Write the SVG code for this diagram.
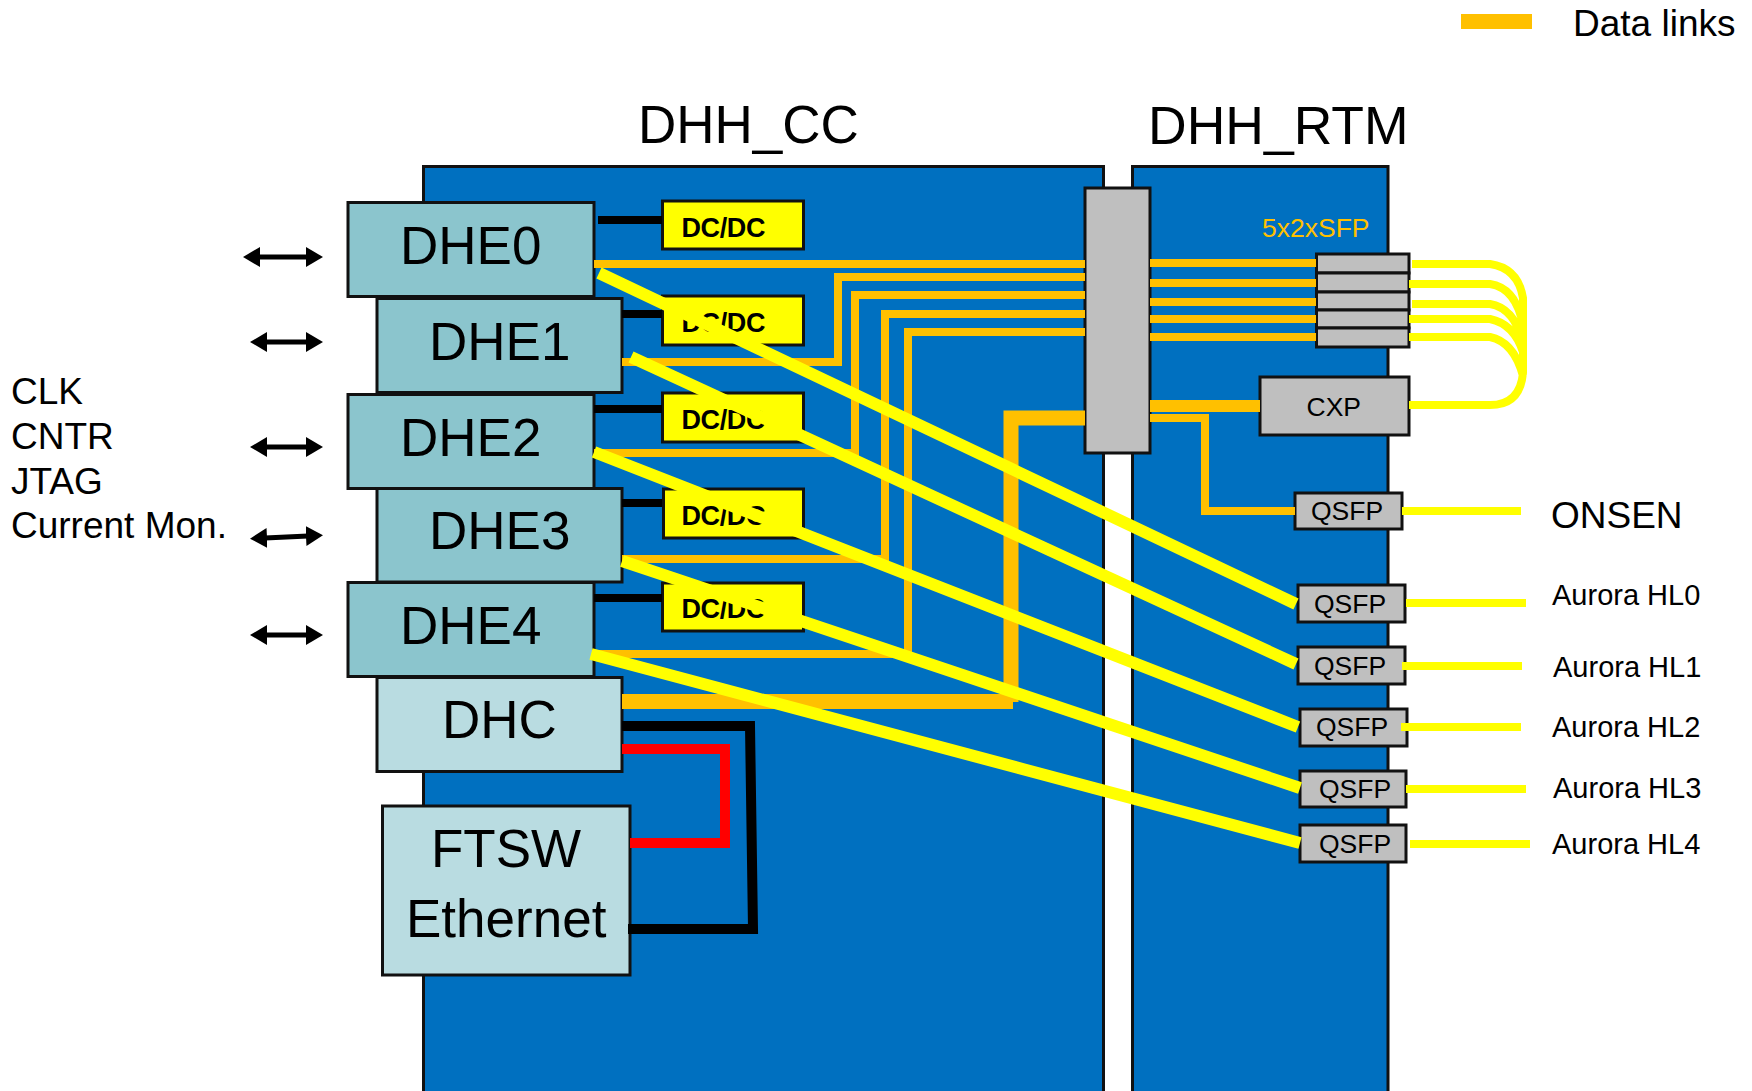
<svg xmlns="http://www.w3.org/2000/svg" width="1752" height="1091" viewBox="0 0 1752 1091">
<style>
text{font-family:"Liberation Sans",Arial,sans-serif;fill:#000}
.panel{fill:#0070c0;stroke:#111;stroke-width:3}
.box{stroke:#111;stroke-width:3}
.dhe{fill:#8bc5cd}.lt{fill:#b9dce1}.gray{fill:#bfbfbf}.dc{fill:#ff0}
.big{font-size:53px}.dct{font-size:27px;font-weight:bold;letter-spacing:-.4px}.q{font-size:26.5px}.a{font-size:29px}.m{font-size:37px}
.or,.ye,.bk,.rd{fill:none}
.or{stroke:#ffc000;stroke-width:8}.ye{stroke:#ff0;stroke-width:12}.bk{stroke:#000;stroke-width:8}.rd{stroke:#f00;stroke-width:10}
.ar{stroke:#000;stroke-width:5;fill:none;marker-start:url(#h);marker-end:url(#h)}
</style>
<defs><marker id="h" markerUnits="userSpaceOnUse" markerWidth="20" markerHeight="22" refX="2" refY="11" orient="auto-start-reverse"><path d="M0 1L17 11L0 21Z" fill="#000"/></marker></defs>
<rect width="1752" height="1091" fill="#fff"/>
<g id="legend"><rect x="1461" y="14" width="71" height="15" fill="#ffc000"/><text x="1573" y="36" class="m">Data links</text></g>
<g id="titles"><text x="638" y="143" class="big">DHH_CC</text><text x="1148" y="144" style="font-size:53.500px">DHH_RTM</text></g>
<g id="signals" class="m"><text x="11" y="404">CLK</text><text x="11" y="449">CNTR</text><text x="11" y="494">JTAG</text><text x="11" y="538">Current Mon.</text></g>
<g id="panel-cc"><rect class="panel" x="423.500" y="166.500" width="680" height="940"/></g>
<g id="panel-rtm"><rect class="panel" x="1132.500" y="166.500" width="255.500" height="940"/></g>
<g id="dhe0"><rect class="box dhe" x="348" y="202.500" width="246" height="94"/><text x="400" y="264" class="big">DHE0</text></g>
<g id="dhe1"><rect class="box dhe" x="377" y="298.500" width="245" height="94"/><text x="429" y="360" class="big">DHE1</text></g>
<g id="dhe2"><rect class="box dhe" x="348" y="394.500" width="246" height="94"/><text x="400" y="456" class="big">DHE2</text></g>
<g id="dhe3"><rect class="box dhe" x="377" y="488.500" width="245" height="93.500"/><text x="429" y="549" class="big">DHE3</text></g>
<g id="dhe4"><rect class="box dhe" x="348" y="582.500" width="246" height="94"/><text x="400" y="644" class="big">DHE4</text></g>
<g id="dhc"><rect class="box lt" x="377" y="677.500" width="245" height="94"/><text x="442" y="738" class="big">DHC</text></g>
<g id="ftsw"><rect class="box lt" x="382.500" y="806" width="247.500" height="169"/><text x="431" y="867" class="big">FTSW</text><text x="406" y="937" class="big">Ethernet</text></g>
<g id="dc0"><rect class="box dc" x="662.500" y="201" width="141" height="48"/><text x="681.500" y="237" class="dct">DC/DC</text></g>
<g id="dc1"><rect class="box dc" x="662.500" y="296" width="141" height="49"/><text x="681.500" y="332" class="dct">DC/DC</text></g>
<g id="dc2"><rect class="box dc" x="662.500" y="393" width="141" height="49"/><text x="681.500" y="429" class="dct">DC/DC</text></g>
<g id="dc3"><rect class="box dc" x="663.500" y="489" width="140" height="49"/><text x="681.500" y="525" class="dct">DC/DC</text></g>
<g id="dc4"><rect class="box dc" x="662.500" y="583" width="141" height="48"/><text x="681.500" y="618" class="dct">DC/DC</text></g>
<g id="switch"><rect class="box gray" x="1085" y="188" width="65" height="265"/></g>
<g id="sfp"><rect class="box gray" x="1316.500" y="254" width="92.500" height="19"/><rect class="box gray" x="1316.500" y="273" width="92.500" height="19"/><rect class="box gray" x="1316.500" y="292" width="92.500" height="18"/><rect class="box gray" x="1316.500" y="310" width="92.500" height="18"/><rect class="box gray" x="1316.500" y="328" width="92.500" height="19"/><text x="1262" y="237" font-size="26.500" style="fill:#ffc000">5x2xSFP</text></g>
<g id="cxp"><rect class="box gray" x="1260" y="377" width="149" height="58"/><text x="1306.500" y="416" class="q">CXP</text></g>
<g id="qsfp-onsen"><rect class="box gray" x="1295" y="493" width="107" height="36"/><text x="1311" y="520" class="q">QSFP</text></g>
<g id="qsfp0"><rect class="box gray" x="1298" y="585" width="107" height="37"/><text x="1314" y="613" class="q">QSFP</text></g>
<g id="qsfp1"><rect class="box gray" x="1298" y="647" width="107" height="37"/><text x="1314" y="675" class="q">QSFP</text></g>
<g id="qsfp2"><rect class="box gray" x="1300" y="709" width="107" height="37"/><text x="1316" y="736" class="q">QSFP</text></g>
<g id="qsfp3"><rect class="box gray" x="1300" y="771" width="106" height="36"/><text x="1319" y="798" class="q">QSFP</text></g>
<g id="qsfp4"><rect class="box gray" x="1300" y="825" width="106" height="37"/><text x="1319" y="852.500" class="q">QSFP</text></g>
<g id="outputs"><text x="1551" y="528" class="m">ONSEN</text><text x="1552" y="605" class="a">Aurora HL0</text><text x="1553" y="677" class="a">Aurora HL1</text><text x="1552" y="737" class="a">Aurora HL2</text><text x="1553" y="798" class="a">Aurora HL3</text><text x="1552" y="854" class="a">Aurora HL4</text></g>
<g id="connectors">
<path class="ar" d="M258 257H308"/><path class="ar" d="M265 342H308"/><path class="ar" d="M265 447H308"/><path class="ar" d="M265 538L308 536"/><path class="ar" d="M265 635H308"/>
<path class="bk" d="M598 220H662M622 314H662M594 409H662M622 503H662M594 598H662"/>
<path class="or" d="M594 264H1085M622 362H838V277H1085M594 453H855V295H1085M622 559H885V314H1085M594 654H908V332H1085"/>
<path class="or" style="stroke-width:15" d="M622 701.500H1013M1011 702V418H1085"/>
<path class="or" d="M1150 263H1316M1150 283H1316M1150 302H1316M1150 319H1316M1150 337H1316M1150 418H1205V511H1295"/>
<path class="or" style="stroke-width:12" d="M1150 406H1260"/>
<path class="bk" style="stroke-width:10" d="M622 726H750L753 929H628"/>
<path class="rd" d="M622 749H725V843H630"/>
<path class="ye" d="M599 273L1296 604M631 357L1296 664M594 452L1298 727M622 561L1300 788M591 654L1300 843"/>
<path class="ye" style="stroke-width:8" d="M1412 264H1490Q1518 268 1523 298V373Q1520 405 1490 405H1409M1409 284H1490Q1516 288 1523 325M1412 304H1490Q1514 308 1523 342M1409 319H1490Q1514 324 1523 352M1409 337H1490Q1514 342 1523 376"/>
<path class="ye" style="stroke-width:8" d="M1402 511H1521M1406 603H1526M1402 666H1522M1401 727H1521M1406 789H1526M1410 844H1530"/>
</g>
</svg>
